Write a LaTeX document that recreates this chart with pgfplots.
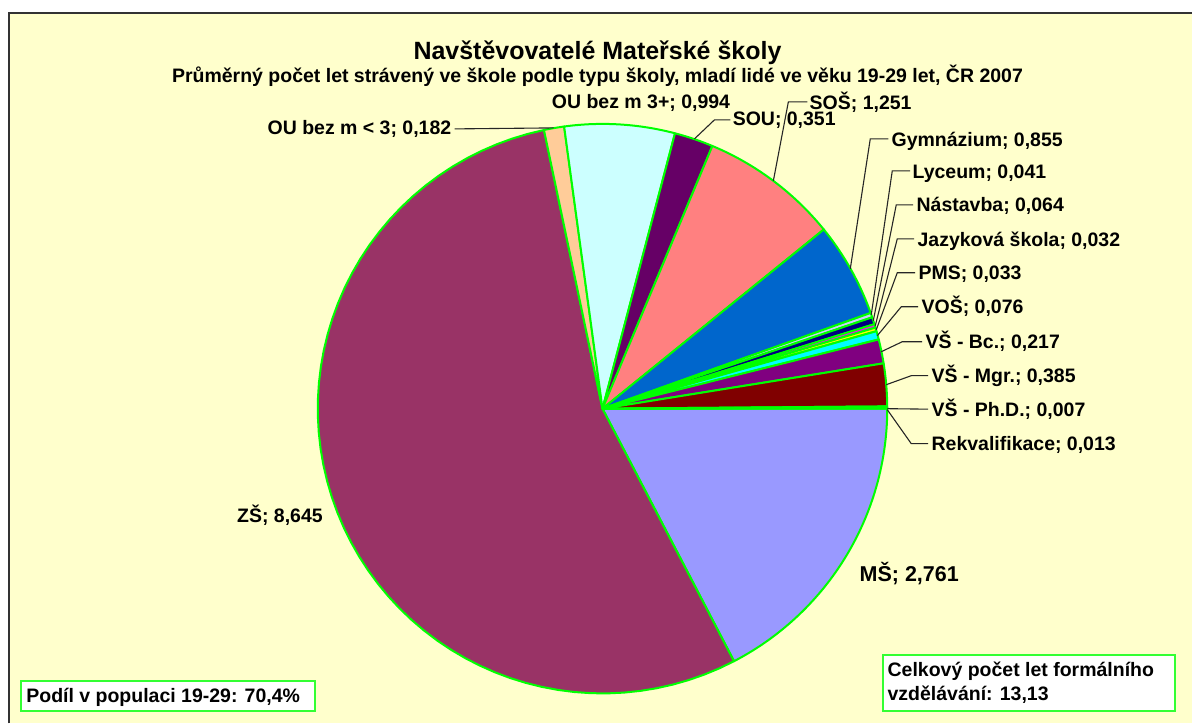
\documentclass[border=0pt]{standalone}
\usepackage{pgfplots}
\pgfplotsset{compat=1.18}
\usepackage{fontspec}
\setmainfont{Liberation Sans}

\definecolor{bg}{HTML}{FFFFCC}
\definecolor{edge}{HTML}{00FF00}
\definecolor{boxedge}{HTML}{33FF33}
\definecolor{cMS}{HTML}{9999FF}
\definecolor{cZS}{HTML}{993366}
\definecolor{cOUa}{HTML}{FFCC99}
\definecolor{cOUb}{HTML}{CCFFFF}
\definecolor{cSOU}{HTML}{660066}
\definecolor{cSOS}{HTML}{FF8080}
\definecolor{cGym}{HTML}{0066CC}
\definecolor{cLyc}{HTML}{CCCCFF}
\definecolor{cNas}{HTML}{000080}
\definecolor{cJaz}{HTML}{FF00FF}
\definecolor{cPMS}{HTML}{FFFF00}
\definecolor{cVOS}{HTML}{00FFFF}
\definecolor{cBc}{HTML}{800080}
\definecolor{cMgr}{HTML}{800000}
\definecolor{cPhD}{HTML}{008080}
\definecolor{cRek}{HTML}{0000FF}

% slice values (clockwise from 3 o'clock)
\def\vMS{2.761}\def\vZS{8.645}\def\vOUa{0.182}\def\vOUb{0.994}
\def\vSOU{0.351}\def\vSOS{1.251}\def\vGym{0.855}\def\vLyc{0.041}
\def\vNas{0.064}\def\vJaz{0.032}\def\vPMS{0.033}\def\vVOS{0.076}
\def\vBc{0.217}\def\vMgr{0.385}\def\vPhD{0.007}\def\vRek{0.013}
\pgfmathsetmacro\tot{\vMS+\vZS+\vOUa+\vOUb+\vSOU+\vSOS+\vGym+\vLyc+\vNas+\vJaz+\vPMS+\vVOS+\vBc+\vMgr+\vPhD+\vRek}
\pgfmathsetmacro\k{360/\tot}
\pgfmathsetmacro\eA{0-\vMS*\k}
\pgfmathsetmacro\eB{\eA-\vZS*\k}
\pgfmathsetmacro\eC{\eB-\vOUa*\k}
\pgfmathsetmacro\eD{\eC-\vOUb*\k}
\pgfmathsetmacro\eE{\eD-\vSOU*\k}
\pgfmathsetmacro\eF{\eE-\vSOS*\k}
\pgfmathsetmacro\eG{\eF-\vGym*\k}
\pgfmathsetmacro\eH{\eG-\vLyc*\k}
\pgfmathsetmacro\eI{\eH-\vNas*\k}
\pgfmathsetmacro\eJ{\eI-\vJaz*\k}
\pgfmathsetmacro\eK{\eJ-\vPMS*\k}
\pgfmathsetmacro\eL{\eK-\vVOS*\k}
\pgfmathsetmacro\eM{\eL-\vBc*\k}
\pgfmathsetmacro\eN{\eM-\vMgr*\k}
\pgfmathsetmacro\eO{\eN-\vPhD*\k}
\pgfmathsetmacro\eP{\eO-\vRek*\k}

\newcommand\lab{\bfseries\fontsize{9.75}{11}\selectfont}
\tikzset{leader/.style={black!85, line width=0.55pt}}
\pgfplotsset{slice/.style={draw=edge, line width=1pt, line join=round, samples=60, variable=\t}}

\begin{document}
\begin{tikzpicture}
\begin{axis}[
  scale only axis, width=596.5pt, height=362pt,
  xmin=0, xmax=1193, ymin=0, ymax=724, y dir=reverse,
  hide axis, clip=false,
]
% background
\fill[white] (axis cs:0,0) rectangle (axis cs:1193,724);
\fill[bg] (axis cs:9.5,13) rectangle (axis cs:1193,724);
\draw[line width=1pt, black!80] (axis cs:9.5,724) -- (axis cs:9.5,13) -- (axis cs:1193,13);

% pie slices
\addplot[slice, fill=cMS,  domain=\eA:0]   ({603+285*cos(\t)},{409-285*sin(\t)}) -- (axis cs:603,409) -- cycle;
\addplot[slice, fill=cZS,  domain=\eB:\eA] ({603+285*cos(\t)},{409-285*sin(\t)}) -- (axis cs:603,409) -- cycle;
\addplot[slice, fill=cOUa, domain=\eC:\eB] ({603+285*cos(\t)},{409-285*sin(\t)}) -- (axis cs:603,409) -- cycle;
\addplot[slice, fill=cOUb, domain=\eD:\eC] ({603+285*cos(\t)},{409-285*sin(\t)}) -- (axis cs:603,409) -- cycle;
\addplot[slice, fill=cSOU, domain=\eE:\eD] ({603+285*cos(\t)},{409-285*sin(\t)}) -- (axis cs:603,409) -- cycle;
\addplot[slice, fill=cSOS, domain=\eF:\eE] ({603+285*cos(\t)},{409-285*sin(\t)}) -- (axis cs:603,409) -- cycle;
\addplot[slice, fill=cGym, domain=\eG:\eF] ({603+285*cos(\t)},{409-285*sin(\t)}) -- (axis cs:603,409) -- cycle;
\addplot[slice, fill=cLyc, domain=\eH:\eG] ({603+285*cos(\t)},{409-285*sin(\t)}) -- (axis cs:603,409) -- cycle;
\addplot[slice, fill=cNas, domain=\eI:\eH] ({603+285*cos(\t)},{409-285*sin(\t)}) -- (axis cs:603,409) -- cycle;
\addplot[slice, fill=cJaz, domain=\eJ:\eI] ({603+285*cos(\t)},{409-285*sin(\t)}) -- (axis cs:603,409) -- cycle;
\addplot[slice, fill=cPMS, domain=\eK:\eJ] ({603+285*cos(\t)},{409-285*sin(\t)}) -- (axis cs:603,409) -- cycle;
\addplot[slice, fill=cVOS, domain=\eL:\eK] ({603+285*cos(\t)},{409-285*sin(\t)}) -- (axis cs:603,409) -- cycle;
\addplot[slice, fill=cBc,  domain=\eM:\eL] ({603+285*cos(\t)},{409-285*sin(\t)}) -- (axis cs:603,409) -- cycle;
\addplot[slice, fill=cMgr, domain=\eN:\eM] ({603+285*cos(\t)},{409-285*sin(\t)}) -- (axis cs:603,409) -- cycle;
\addplot[slice, fill=cPhD, domain=\eO:\eN] ({603+285*cos(\t)},{409-285*sin(\t)}) -- (axis cs:603,409) -- cycle;
\addplot[slice, fill=cRek, domain=\eP:\eO] ({603+285*cos(\t)},{409-285*sin(\t)}) -- (axis cs:603,409) -- cycle;

% titles
\node[anchor=base, inner sep=0pt, font=\bfseries\fontsize{12.5}{14}\selectfont] at (axis cs:598,60) {Navštěvovatelé Mateřské školy};
\node[anchor=base, inner sep=0pt, font=\bfseries\fontsize{9.75}{11}\selectfont] at (axis cs:598,83) {Průměrný počet let strávený ve škole podle typu školy, mladí lidé ve věku 19-29 let, ČR 2007};

% leader lines
\draw[leader] (axis cs:455,129) -- (axis cs:554,128);
\draw[leader] (axis cs:731,120) -- (axis cs:715,120) -- (axis cs:695,139);
\draw[leader] (axis cs:808,102) -- (axis cs:789,102) -- (axis cs:774,181);
\draw[leader] (axis cs:889,139) -- (axis cs:871,139) -- (axis cs:851,269);
\draw[leader] (axis cs:911,171) -- (axis cs:893,171) -- (axis cs:872,315);
\draw[leader] (axis cs:914,205) -- (axis cs:897,205) -- (axis cs:874,321);
\draw[leader] (axis cs:915,239) -- (axis cs:898,239) -- (axis cs:876,326);
\draw[leader] (axis cs:916,273) -- (axis cs:898,273) -- (axis cs:877,330);
\draw[leader] (axis cs:919,307) -- (axis cs:902,307) -- (axis cs:878,336);
\draw[leader] (axis cs:923,342) -- (axis cs:903,342) -- (axis cs:882,352);
\draw[leader] (axis cs:929,376) -- (axis cs:912,376) -- (axis cs:887,385);
\draw[leader] (axis cs:929,409.5) -- (axis cs:888,409);
\draw[leader] (axis cs:929,444) -- (axis cs:912,444) -- (axis cs:888,410);

% labels
\node[anchor=base east, inner sep=0pt, font=\lab] at (axis cs:452,135) {OU bez m < 3; 0,182};
\node[anchor=base west, inner sep=0pt, font=\lab] at (axis cs:552,109) {OU bez m 3+; 0,994};
\node[anchor=base west, inner sep=0pt, font=\lab] at (axis cs:733,126) {SOU; 0,351};
\node[anchor=base west, inner sep=0pt, font=\lab] at (axis cs:810,110) {SOŠ; 1,251};
\node[anchor=base west, inner sep=0pt, font=\lab] at (axis cs:892,147) {Gymnázium; 0,855};
\node[anchor=base west, inner sep=0pt, font=\lab] at (axis cs:913,179) {Lyceum; 0,041};
\node[anchor=base west, inner sep=0pt, font=\lab] at (axis cs:917,212) {Nástavba; 0,064};
\node[anchor=base west, inner sep=0pt, font=\lab] at (axis cs:918,247) {Jazyková škola; 0,032};
\node[anchor=base west, inner sep=0pt, font=\lab] at (axis cs:919,280) {PMS; 0,033};
\node[anchor=base west, inner sep=0pt, font=\lab] at (axis cs:922,314) {VOŠ; 0,076};
\node[anchor=base west, inner sep=0pt, font=\lab] at (axis cs:926,349) {VŠ - Bc.; 0,217};
\node[anchor=base west, inner sep=0pt, font=\lab] at (axis cs:932,383) {VŠ - Mgr.; 0,385};
\node[anchor=base west, inner sep=0pt, font=\lab] at (axis cs:932,417) {VŠ - Ph.D.; 0,007};
\node[anchor=base west, inner sep=0pt, font=\lab] at (axis cs:932,451) {Rekvalifikace; 0,013};
\node[anchor=base west, inner sep=0pt, font=\bfseries\fontsize{10.75}{12}\selectfont] at (axis cs:860,582) {MŠ; 2,761};
\node[anchor=base west, inner sep=0pt, font=\lab] at (axis cs:237,523) {ZŠ; 8,645};

% text boxes
\draw[boxedge, line width=1pt, fill=white] (axis cs:21,682) rectangle (axis cs:315,712);
\node[anchor=base west, inner sep=0pt, font=\lab] at (axis cs:26,703) {Podíl v populaci 19-29: 70,4\%};
\draw[boxedge, line width=1pt, fill=white] (axis cs:884,656) rectangle (axis cs:1176,712);
\node[anchor=base west, inner sep=0pt, font=\lab] at (axis cs:888,677) {Celkový počet let formálního};
\node[anchor=base west, inner sep=0pt, font=\lab] at (axis cs:888,701) {vzdělávání: 13,13};
\end{axis}
\end{tikzpicture}
\end{document}
